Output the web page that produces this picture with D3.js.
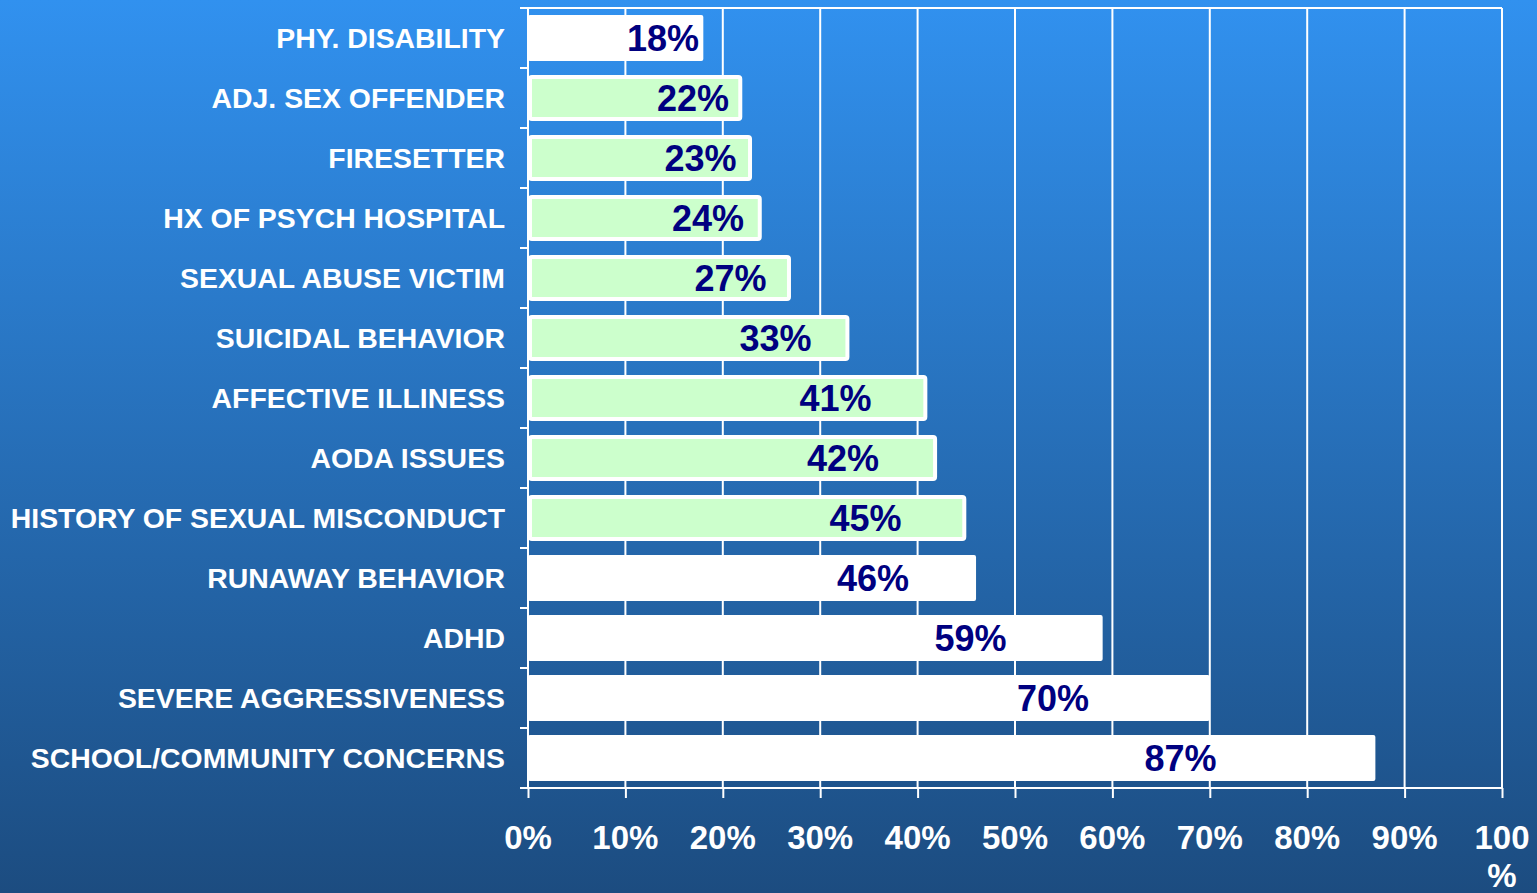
<!DOCTYPE html>
<html>
<head>
<meta charset="utf-8">
<script src="https://cdn.jsdelivr.net/npm/d3@7"></script>
<style>
  html, body { margin: 0; padding: 0; overflow: hidden; }
  body { width: 1537px; height: 893px; }
  text { font-family: "Liberation Sans", Arial, sans-serif; font-weight: bold; }
</style>
</head>
<body>
<div id="screen"></div>
<script>
// categories, top to bottom
var categories = [
    "PHY. DISABILITY",
    "ADJ. SEX OFFENDER",
    "FIRESETTER",
    "HX OF PSYCH HOSPITAL",
    "SEXUAL ABUSE VICTIM",
    "SUICIDAL BEHAVIOR",
    "AFFECTIVE ILLINESS",
    "AODA ISSUES",
    "HISTORY OF SEXUAL MISCONDUCT",
    "RUNAWAY BEHAVIOR",
    "ADHD",
    "SEVERE AGGRESSIVENESS",
    "SCHOOL/COMMUNITY CONCERNS"
];
var values = [18, 22, 23, 24, 27, 33, 41, 42, 45, 46, 59, 70, 87];
// which bars are highlighted green
var highlighted = [false, true, true, true, true, true, true, true, true, false, false, false, false];
var tickValues = [0, 10, 20, 30, 40, 50, 60, 70, 80, 90, 100];

var width = 1537, height = 893;
var plotLeft = 528, plotRight = 1502, plotTop = 8, plotBottom = 788;

var svg = d3.select("#screen").append("svg").attr("width", width).attr("height", height);

var defs = svg.append("defs");
var grad = defs.append("linearGradient").attr("id", "bg").attr("x1", 0).attr("y1", 0).attr("x2", 0).attr("y2", 1);
grad.append("stop").attr("offset", "0%").attr("stop-color", "#3191ef");
grad.append("stop").attr("offset", "100%").attr("stop-color", "#1c4c80");
svg.append("rect").attr("width", width).attr("height", height).attr("fill", "url(#bg)");

var x = d3.scaleLinear().domain([0, 100]).range([plotLeft, plotRight]);
var y = d3.scaleBand().domain(categories).range([plotTop, plotBottom]).paddingInner(0.23).paddingOuter(0.115);

// gridlines
svg.append("g").selectAll("line").data(tickValues.slice(1)).enter().append("line")
    .attr("x1", d => x(d)).attr("x2", d => x(d))
    .attr("y1", plotTop).attr("y2", plotBottom)
    .attr("stroke", "white").attr("stroke-width", 2);
svg.append("line").attr("x1", plotLeft).attr("x2", plotRight).attr("y1", plotTop).attr("y2", plotTop)
    .attr("stroke", "white").attr("stroke-width", 2);

// left axis ticks at category boundaries
var step = (plotBottom - plotTop) / categories.length;
svg.append("g").selectAll("line").data(d3.range(categories.length + 1)).enter().append("line")
    .attr("x1", plotLeft - 8).attr("x2", plotLeft)
    .attr("y1", d => plotTop + d * step).attr("y2", d => plotTop + d * step)
    .attr("stroke", "white").attr("stroke-width", 2);
svg.append("line").attr("x1", plotLeft).attr("x2", plotLeft).attr("y1", plotTop).attr("y2", plotBottom)
    .attr("stroke", "white").attr("stroke-width", 2);

// bottom axis
var xAxis = d3.axisBottom(x).tickValues(tickValues).tickSize(10).tickFormat("");
var ax = svg.append("g").attr("transform", "translate(0," + plotBottom + ")").call(xAxis);
ax.select(".domain").attr("stroke", "white").attr("stroke-width", 2).attr("d", "M" + (plotLeft - 8) + ",0H" + plotRight);
ax.selectAll(".tick line").attr("stroke", "white").attr("stroke-width", 2);

svg.append("g").selectAll("text").data(tickValues).enter().append("text")
    .attr("x", d => x(d)).attr("y", 849)
    .attr("text-anchor", "middle").attr("fill", "white").style("font-size", "33px")
    .each(function(d) {
        var t = d3.select(this);
        if (d === 100) {
            t.append("tspan").attr("x", x(d)).text("100");
            t.append("tspan").attr("x", x(d)).attr("dy", 38).text("%");
        } else {
            t.text(d + "%");
        }
    });

// bars
svg.append("g").selectAll("rect").data(values).enter().append("rect")
    .attr("x", (d, i) => x(0) + (highlighted[i] ? 2 : 0))
    .attr("y", (d, i) => y(categories[i]) + (highlighted[i] ? 2 : 0))
    .attr("width", (d, i) => x(d) - x(0) - (highlighted[i] ? 4 : 0))
    .attr("height", (d, i) => y.bandwidth() - (highlighted[i] ? 4 : 0))
    .attr("rx", 2)
    .attr("fill", (d, i) => highlighted[i] ? "#ccffcc" : "white")
    .attr("stroke", "white")
    .attr("stroke-width", (d, i) => highlighted[i] ? 4 : 0);

// category labels
svg.append("g").selectAll("text").data(categories).enter().append("text")
    .attr("x", 505)
    .attr("y", d => y(d) + y.bandwidth() / 2)
    .attr("dy", "0.36em")
    .attr("text-anchor", "end").attr("fill", "white").style("font-size", "28.4px")
    .text(d => d);

// value labels
svg.append("g").selectAll("text").data(values).enter().append("text")
    .attr("x", d => x(0) + 0.77 * (x(d) - x(0)))
    .attr("y", (d, i) => y(categories[i]) + y.bandwidth() / 2)
    .attr("dy", "0.36em")
    .attr("text-anchor", "middle").attr("fill", "#000080").style("font-size", "36px")
    .text(d => d + "%");
</script>
</body>
</html>
